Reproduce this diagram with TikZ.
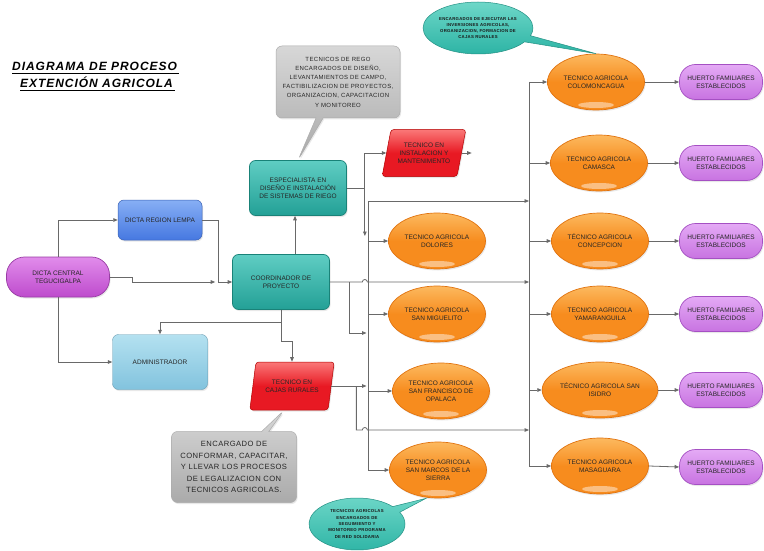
\documentclass[tikz,border=0pt]{standalone}
\usepackage{fontspec}
\setmainfont{Liberation Sans}
\newfontfamily\titlefont[LetterSpace=8]{Liberation Sans}
\newfontfamily\spfont[LetterSpace=6]{Liberation Sans}
\usetikzlibrary{shapes.geometric,shapes.callouts,shapes.misc,arrows.meta,shadows,calc}
\definecolor{orgL}{RGB}{252,185,95}
\definecolor{orgM}{RGB}{247,140,30}
\definecolor{orgD}{RGB}{225,115,15}
\definecolor{purL}{RGB}{228,170,245}
\definecolor{purM}{RGB}{200,115,225}
\definecolor{purD}{RGB}{165,80,195}
\definecolor{magL}{RGB}{225,140,235}
\definecolor{magM}{RGB}{190,75,205}
\definecolor{bluL}{RGB}{135,175,245}
\definecolor{bluM}{RGB}{70,120,225}
\definecolor{tealL}{RGB}{95,205,195}
\definecolor{tealM}{RGB}{35,160,150}
\definecolor{tealD}{RGB}{25,130,120}
\definecolor{admL}{RGB}{180,225,240}
\definecolor{admM}{RGB}{130,195,222}
\definecolor{redL}{RGB}{250,120,120}
\definecolor{redM}{RGB}{232,25,35}
\definecolor{grayL}{RGB}{215,215,215}
\definecolor{grayM}{RGB}{170,170,170}
\definecolor{tcL}{RGB}{110,215,200}
\definecolor{tcM}{RGB}{45,180,165}
\definecolor{lineC}{RGB}{105,105,105}
\tikzset{
  base/.style={align=center, text=black!85, font=\fontsize{6.5}{8}\selectfont, inner sep=1pt,
    drop shadow={opacity=.18,shadow xshift=1pt,shadow yshift=-1.5pt}},
  orangeell/.style={base, ellipse, draw=orgD, line width=.7pt, top color=orgL, bottom color=orgM, middle color=orgM,
    minimum width=97, minimum height=56,
    path picture={\fill[white,opacity=.45] ($(path picture bounding box.south)+(0,-5)$) ellipse (18pt and 3pt);}},
  pill/.style={base, rectangle, rounded corners=16, draw=purD, line width=.7pt, top color=purL, bottom color=purM,
    minimum width=83, minimum height=35},
  tealbox/.style={base, rectangle, rounded corners=6, draw=tealD, line width=.7pt, top color=tealL, bottom color=tealM,
    minimum width=97, minimum height=55},
  redpar/.style={base, trapezium, trapezium left angle=72, trapezium right angle=108, trapezium stretches=true,
    rounded corners=3, draw=red!70!black, line width=.5pt, top color=redL, bottom color=redM, middle color=redM,
    minimum width=84, minimum height=47},
  graycall/.style={rectangle callout, rounded corners=6, draw=grayL!80!black, line width=.5pt,
    top color=grayL, bottom color=grayM, align=center, text=black!85,
    drop shadow={opacity=.18,shadow xshift=1pt,shadow yshift=-1.5pt}},
  tealcall/.style={ellipse callout, draw=tcM!80!black, line width=.5pt, top color=tcL, bottom color=tcM,
    align=center, text=black!90, inner sep=0pt},
  conn/.style={draw=lineC, line width=.8pt, -{Triangle[length=4.5pt,width=3.6pt]}},
  ln/.style={draw=lineC, line width=.8pt}
}
\begin{document}
\begin{tikzpicture}[x=1pt,y=-1pt]
\useasboundingbox[fill=white] (0,0) rectangle (764,551);

% title
\node[anchor=base west, inner sep=0, font=\titlefont\bfseries\itshape\fontsize{12}{14}\selectfont] (t1) at (12,71) {DIAGRAMA DE PROCESO};
\node[anchor=base west, inner sep=0, font=\titlefont\bfseries\itshape\fontsize{12}{14}\selectfont] (t2) at (20,88) {EXTENCIÓN AGRICOLA};
\draw[line width=1.1pt] ([yshift=-2.5pt]t1.base west) -- ([yshift=-2.5pt,xshift=2pt]t1.base east);
\draw[line width=1.1pt] ([yshift=-2.5pt]t2.base west) -- ([yshift=-2.5pt,xshift=2pt]t2.base east);

% left side
\node[base, rectangle, rounded corners=18, draw=magM!80!black, line width=.7pt, top color=magL, bottom color=magM,
  minimum width=103, minimum height=40] (central) at (58,277) {DICTA CENTRAL\\TEGUCIGALPA};
\node[base, rectangle, rounded corners=6, draw=bluM!80!black, line width=.5pt, top color=bluL, bottom color=bluM,
  minimum width=84, minimum height=40] (region) at (160,220) {DICTA REGION LEMPA};
\node[base, rectangle, rounded corners=6, draw=admM!80!black, line width=.4pt, top color=admL, bottom color=admM,
  minimum width=95, minimum height=55] (admin) at (160,362) {ADMINISTRADOR};
\node[tealbox] (coord) at (281,282) {COORDINADOR DE\\PROYECTO};
\node[tealbox] (spec) at (298,188) {ESPECIALISTA EN\\DISEÑO E INSTALACIÓN\\DE SISTEMAS DE RIEGO};
\node[redpar] (inst) at (424,153) {TECNICO EN\\INSTALACION Y\\MANTENIMENTO};
\node[redpar, minimum width=85, minimum height=48] (cajas) at (292,386) {TECNICO EN\\CAJAS RURALES};

% middle ellipses
\node[orangeell] (dolores) at (437,241) {TECNICO AGRICOLA\\DOLORES};
\node[orangeell] (smig) at (437,314) {TECNICO AGRICOLA\\SAN MIGUELITO};
\node[orangeell] (sfran) at (441,391) {TECNICO AGRICOLA\\SAN FRANCISCO DE\\OPALACA};
\node[orangeell] (smarcos) at (438,470) {TECNICO AGRICOLA\\SAN MARCOS DE LA\\SIERRA};

% right ellipses
\node[orangeell] (colom) at (596,82) {TECNICO AGRICOLA\\COLOMONCAGUA};
\node[orangeell] (camasca) at (599,163) {TECNICO AGRICOLA\\CAMASCA};
\node[orangeell] (concep) at (600,241) {TÉCNICO AGRICOLA\\CONCEPCION};
\node[orangeell] (yamar) at (600,314) {TECNICO AGRICOLA\\YAMARANGUILA};
\node[orangeell] (sisidro) at (600,390) {TÉCNICO AGRICOLA SAN\\ISIDRO};
\node[orangeell] (masag) at (600,466) {TECNICO AGRICOLA\\MASAGUARA};

% pills
\node[pill] (p1) at (721,82) {HUERTO FAMILIARES\\ESTABLECIDOS};
\node[pill] (p2) at (721,163) {HUERTO FAMILIARES\\ESTABLECIDOS};
\node[pill] (p3) at (721,241) {HUERTO FAMILIARES\\ESTABLECIDOS};
\node[pill] (p4) at (721,314) {HUERTO FAMILIARES\\ESTABLECIDOS};
\node[pill] (p5) at (721,390) {HUERTO FAMILIARES\\ESTABLECIDOS};
\node[pill] (p6) at (721,467) {HUERTO FAMILIARES\\ESTABLECIDOS};

% connectors left
\draw[conn] (central.north) |- (region.west);
\draw[conn] (central.east) -- ++(23,0) -- ++(0,5) -- ([xshift=-17pt]coord.west);
\draw[conn] (region.east) -- ++(16,0) |- (coord.west);
\draw[conn] (central.south) |- (admin.west);
\draw[conn] (coord.south) -- ++(0,13) -| (admin.north);
\draw[conn] (coord.south) -- ++(0,32) -| (cajas.north);
\draw[conn] ([xshift=14pt]coord.north) -- ([xshift=14pt]coord.north |- spec.south);

% middle connectors
\coordinate (b1) at ($(spec.east)+(18,0)$);
\coordinate (bt) at (368,201);
\coordinate (rb) at (529,0);
\draw[ln] (spec.east) -- (b1);
\draw[conn] (b1) |- (inst.west);
\draw[conn] (b1) -- ++(0,48);
\draw[conn] (inst.east) -- ++(10,0) coordinate (instout);
\draw[conn] (bt) -- (rb |- bt);
\draw[conn] (bt) |- (smarcos.west);
\draw[conn] (bt |- dolores.west) -- (dolores.west);
\draw[conn] (bt |- smig.west) -- (smig.west);
\draw[conn] (bt |- sfran.west) -- (sfran.west);
% coordinator to right bus with hop
\coordinate (hopA) at (b1 |- coord.east);
\draw[conn] (coord.east) -- ([xshift=-2.5pt]hopA) arc[start angle=180, end angle=360, radius=2.5] -- (rb |- coord.east);
\coordinate (cj) at ($(coord.east)+(20,0)$);
\draw[conn] (cj) |- ($(bt)+(-1.5,132)$);
% cajas
\coordinate (cj2) at ($(cajas.east)+(25,0)$);
\draw[conn] (cajas.east) -- ($(bt |- cajas.east)+(-1.5,0)$);
\coordinate (h2) at ($(cj2)+(0,44)$);
\coordinate (hopB) at (b1 |- h2);
\draw[conn] (cj2) -- (h2) -- ([xshift=-2.5pt]hopB) arc[start angle=180, end angle=360, radius=2.5] -- (rb |- h2);

% right bus
\draw[ln] (rb |- colom.west) -- (rb |- masag.west);
\foreach \n/\p in {colom/p1,camasca/p2,concep/p3,yamar/p4,sisidro/p5,masag/p6}{
  \draw[conn] (rb |- \n.west) -- (\n.west);
  \draw[conn] (\n.east) -- (\p.west);
}

% callouts
\node[graycall, minimum width=124, minimum height=72, callout absolute pointer={(spec.north)},
  font=\spfont\fontsize{6}{9.2}\selectfont] (c1) at (338,82)
  {TECNICOS DE REGO\\ENCARGADOS DE DISEÑO,\\LEVANTAMIENTOS DE CAMPO,\\FACTIBILIZACION DE PROYECTOS,\\ORGANIZACION, CAPACITACION\\Y MONITOREO};
\node[graycall, minimum width=125, minimum height=71, callout absolute pointer={([xshift=-8pt]cajas.south)},
  font=\spfont\fontsize{7.6}{11.5}\selectfont] (c2) at (234,467)
  {ENCARGADO DE\\CONFORMAR, CAPACITAR,\\Y LLEVAR LOS PROCESOS\\DE LEGALIZACION CON\\TECNICOS AGRICOLAS.};
\node[tealcall, minimum width=96, minimum height=52, callout absolute pointer={(colom.north)},
  font=\spfont\bfseries\fontsize{4.3}{6.3}\selectfont] (c3) at (478,28)
  {ENCARGADOS DE EJECUTAR LAS\\INVERSIONES AGRICOLAS,\\ORGANIZACION, FORMACION DE\\CAJAS RURALES};
\node[tealcall, minimum width=96, minimum height=52, callout absolute pointer={([xshift=-12pt]smarcos.south)},
  font=\spfont\bfseries\fontsize{4.3}{6.3}\selectfont] (c4) at (357,524)
  {TECNICOS AGRICOLAS\\ENCARGADOS DE\\SEGUIMIENTO Y\\MONITOREO PROGRAMA\\DE RED SOLIDARIA};
\end{tikzpicture}
\end{document}
